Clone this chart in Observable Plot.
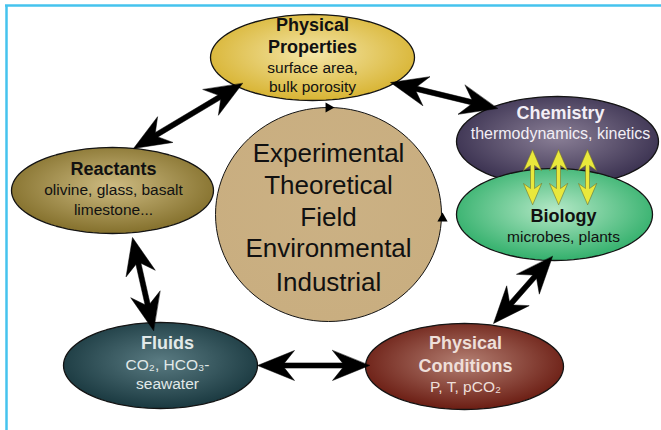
<!DOCTYPE html>
<html><head><meta charset="utf-8">
<script src="https://cdn.jsdelivr.net/npm/d3@7"></script>
<script src="https://cdn.jsdelivr.net/npm/@observablehq/plot@0.6"></script>
<style>body{margin:0;background:#fff}</style>
</head><body><div id="chart"></div>
<script>
// ---- content ----
const nodeNames = ["Physical Properties","Chemistry","Biology","Reactants","Fluids","Physical Conditions","Approaches"];
const nodeTitles = [["Physical","Properties"],["Chemistry"],["Biology"],["Reactants"],["Fluids"],["Physical","Conditions"],[]];
const nodeSubtitles = [["surface area,","bulk porosity"],["thermodynamics, kinetics"],["microbes, plants"],["olivine, glass, basalt","limestone..."],["CO₂, HCO₃-","seawater"],["P, T, pCO₂"],[]];
const approaches = ["Experimental","Theoretical","Field","Environmental","Industrial"];
const links = [["Reactants","Physical Properties"],["Physical Properties","Chemistry"],["Reactants","Fluids"],["Fluids","Physical Conditions"],["Physical Conditions","Biology"]];
const exchangeCount = 3;

// ---- layout (diagram coordinates) ----
const layout = {
  "Physical Properties": {cx:312, cy:57, rx:102, ry:43, tx:312, ty:[25,47,68,87], g:["#f4e6a8","#d8b433"], ink:"#111"},
  "Chemistry":           {cx:557, cy:141, rx:101, ry:45, tx:560, ty:[113,133], g:["#8a7f96","#3a3150"], ink:"#f3eff6"},
  "Biology":             {cx:554, cy:214, rx:98, ry:46, tx:563, ty:[216,237], g:["#b4e8c6","#33b06c"], ink:"#111"},
  "Reactants":           {cx:112, cy:190, rx:101, ry:43, tx:113, ty:[169,190,210], g:["#cdbb82","#84702c"], ink:"#111"},
  "Fluids":              {cx:160, cy:365, rx:97, ry:43, tx:167, ty:[343,365,384], g:["#5a7b82","#1a3940"], ink:"#e2e9e9"},
  "Physical Conditions": {cx:464, cy:366, rx:99, ry:43, tx:465, ty:[343,366,387], g:["#b37f72","#6b1d13"], ink:"#eedfd9"},
  "Approaches":          {cx:328, cy:214, rx:113, ry:107, tx:328, ty:[153,185,217,248,282], g:["#cbb184","#c9ae80"], ink:"#111"}
};
const linkEnds = [[[133,148],[242,83]],[[390,82],[497,108]],[[132,237],[153,330]],[[257,365],[369,365]],[[493,323],[552,256]]];
const exchangeX = [532,558,587], exchangeY = [149,204];
const frameTop = 5, frameLeft = 6;

// ---- geometry helpers ----
function ellipsePts(name) {
  const L = layout[name], pts = [];
  for (let k = 0; k < 96; k++) {
    const t = 2 * Math.PI * k / 96;
    pts.push({name, x: L.cx + L.rx * Math.cos(t), y: L.cy + L.ry * Math.sin(t)});
  }
  return pts;
}
function dblArrow(id, a, b, Lh, H, N, s) {
  const dx = b[0]-a[0], dy = b[1]-a[1], len = Math.hypot(dx, dy);
  const ux = dx/len, uy = dy/len, nx = -uy, ny = ux;
  const P = (p, al, pe) => ({id, x: p[0]+ux*al+nx*pe, y: p[1]+uy*al+ny*pe});
  return [P(b,0,0),P(b,-Lh,H),P(b,-N,s),P(a,N,s),P(a,Lh,H),P(a,0,0),P(a,Lh,-H),P(a,N,-s),P(b,-N,-s),P(b,-Lh,-H)];
}

// ---- text rows ----
const titleRows = [], subRows = [], centerRows = [];
nodeNames.forEach((n, i) => {
  const L = layout[n];
  nodeTitles[i].forEach((t, j) => titleRows.push({text: t, x: L.tx, y: L.ty[j], ink: L.ink}));
  nodeSubtitles[i].forEach((t, j) => subRows.push({text: t, x: L.tx, y: L.ty[nodeTitles[i].length + j], ink: L.ink, chem: n === "Chemistry"}));
});
approaches.forEach((t, j) => centerRows.push({text: t, x: layout.Approaches.tx, y: layout.Approaches.ty[j]}));

const order = ["Approaches","Physical Properties","Reactants","Fluids","Physical Conditions","Chemistry","Biology"];
const ellipseMarks = order.map(n => Plot.line(ellipsePts(n), {
  x: "x", y: "y", curve: "linear-closed",
  fill: `url(#grad${nodeNames.indexOf(n)})`,
  stroke: "#141414", strokeWidth: n === "Approaches" ? 1 : 1.3
}));

const arrowPts = links.flatMap((l, i) => dblArrow(i, linkEnds[i][0], linkEnds[i][1], 37, 15, 27, 2.6));
const exchangePts = d3.range(exchangeCount).flatMap(i => dblArrow("e"+i, [exchangeX[i], exchangeY[0]], [exchangeX[i], exchangeY[1]], 21, 9, 16, 2));

const A = layout.Approaches;
const circleHeads = [{x: A.cx, y: A.cy - A.ry, rot: 90}, {x: A.cx + A.rx + 1, y: A.cy + 4, rot: 0}];

const svg = Plot.plot({
  width: 661, height: 430, margin: 0,
  style: {fontFamily: "'Liberation Sans', Arial, Helvetica, sans-serif", background: "#fff"},
  x: {domain: [0, 661], range: [0, 661], axis: null},
  y: {domain: [0, 430], range: [0, 430], axis: null},
  color: {type: "identity"},
  marks: [
    Plot.ruleY([frameTop], {x1: frameLeft - 1, x2: 661, stroke: "#45c3ee", strokeWidth: 2.5}),
    Plot.ruleX([frameLeft], {y1: frameTop, y2: 430, stroke: "#45c3ee", strokeWidth: 2.5}),
    ...ellipseMarks,
    Plot.line(arrowPts, {x: "x", y: "y", z: "id", curve: "linear-closed", fill: "#000", stroke: "#000", strokeWidth: 0.5}),
    Plot.line(exchangePts, {x: "x", y: "y", z: "id", curve: "linear-closed", fill: "#e9e83c", stroke: "#77762a", strokeWidth: 0.6}),
    Plot.dot(circleHeads, {x: "x", y: "y", rotate: "rot", symbol: "triangle", r: 3.8, fill: "#000", stroke: "none"}),
    Plot.text(titleRows, {x: "x", y: "y", text: "text", fill: "ink", fontSize: 18, fontWeight: "bold", lineAnchor: "middle"}),
    Plot.text(subRows.filter(d => !d.chem), {x: "x", y: "y", text: "text", fill: "ink", fontSize: 15.5, lineAnchor: "middle"}),
    Plot.text(subRows.filter(d => d.chem), {x: "x", y: "y", text: "text", fill: "ink", fontSize: 16, lineAnchor: "middle"}),
    Plot.text(centerRows, {x: "x", y: "y", text: "text", fill: "#111", fontSize: 26, lineAnchor: "middle"})
  ]
});

const defs = d3.select(svg).insert("defs", ":first-child");
nodeNames.forEach((n, i) => {
  const g = defs.append("radialGradient").attr("id", "grad" + i).attr("cx", "50%").attr("cy", "45%").attr("r", "55%");
  g.append("stop").attr("offset", "0%").attr("stop-color", layout[n].g[0]);
  g.append("stop").attr("offset", "100%").attr("stop-color", layout[n].g[1]);
});
document.getElementById("chart").appendChild(svg);
</script>
</body></html>
